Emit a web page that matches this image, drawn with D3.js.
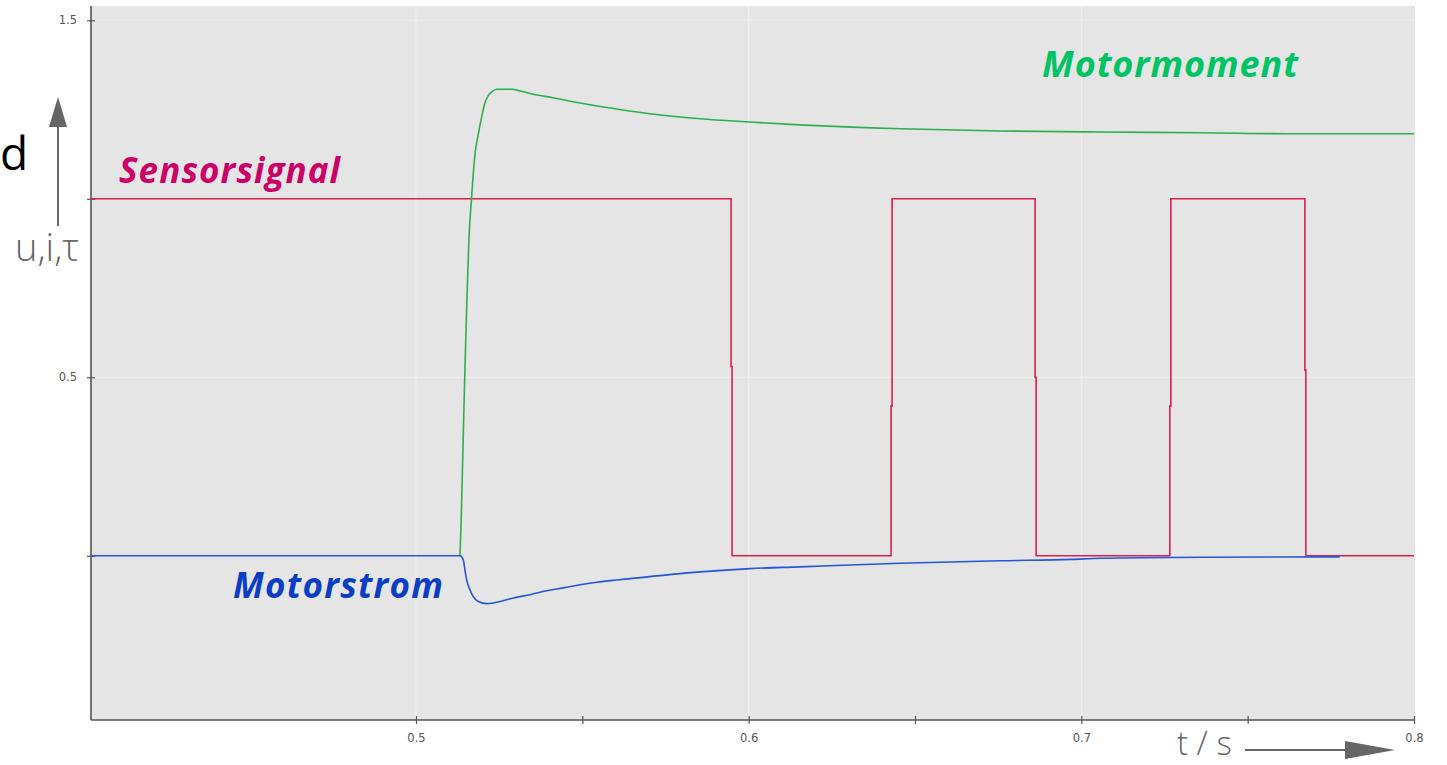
<!DOCTYPE html>
<html>
<head>
<meta charset="utf-8">
<script src="https://cdn.jsdelivr.net/npm/d3@7"></script>
<style>
  body { margin: 0; background: #fff; }
  svg { display: block; }
  .tick text { font-family: "DejaVu Sans", sans-serif; font-size: 11px; fill: #555; }
  .lbl { font-family: "Open Sans", "Noto Sans", sans-serif; font-style: italic; font-weight: 700; }
  .axname { font-family: "Open Sans", "Noto Sans", sans-serif; font-weight: 300; fill: #666; }
</style>
</head>
<body>
<svg id="chart" width="1447" height="765"></svg>
<script>
// axis ranges and ticks
var tDomain = [0.4023, 0.8];
var yDomain = [-0.46, 1.54];
var xTicks = [0.5, 0.55, 0.6, 0.65, 0.7, 0.75, 0.8];
var xTickLabels = ["0.5", "", "0.6", "", "0.7", "", "0.8"];
var xGrid = [0.5, 0.6, 0.7];
var yTicks = [1.5, 1.0, 0.5, 0];
var yTickLabels = ["1.5", "", "0.5", ""];
var yGrid = [1.5, 0.5];

// Motormoment (torque), starts where the motor switches on
var momentT = [0.5132, 0.5135, 0.5141, 0.5147, 0.5153, 0.5159, 0.5167, 0.5172, 0.5178,
               0.5187, 0.5198, 0.5207, 0.5217, 0.5228, 0.5243, 0.5288, 0.5313, 0.5352, 0.5412,
               0.5472, 0.5532, 0.5613, 0.5703, 0.5854, 0.6004, 0.6154, 0.6455, 0.6755, 0.7056,
               0.7357, 0.7657, 0.8];
var momentV = [0, 0.073, 0.297, 0.521, 0.717, 0.885, 1.003, 1.070, 1.130,
               1.180, 1.232, 1.268, 1.289, 1.300, 1.307, 1.307, 1.302, 1.293, 1.283,
               1.272, 1.262, 1.250, 1.238, 1.224, 1.215, 1.207, 1.196, 1.190, 1.187,
               1.185, 1.182, 1.182];

// Motorstrom (current)
var stromT = [0.4023, 0.5132, 0.5142, 0.5147, 0.5152, 0.5162, 0.5172, 0.5187, 0.5213, 0.5253,
              0.5293, 0.5343, 0.5393, 0.5443, 0.5493, 0.5543, 0.5613, 0.5854, 0.6004, 0.6154,
              0.6455, 0.6755, 0.6972, 0.7056, 0.7357, 0.7777];
var stromV = [0, 0, -0.011, -0.039, -0.067, -0.095, -0.114, -0.128, -0.134, -0.128,
              -0.118, -0.109, -0.098, -0.090, -0.081, -0.074, -0.067, -0.045, -0.036, -0.031,
              -0.021, -0.014, -0.010, -0.007, -0.004, -0.003];

// Sensorsignal (sampled, drawn as steps)
var sensorT = [0.4023, 0.5947, 0.5950, 0.6428, 0.6431, 0.6861, 0.6864, 0.7266, 0.7269, 0.7672, 0.7675, 0.8];
var sensorV = [1, 0.53, 0, 0.42, 1, 0.5, 0, 0.42, 1, 0.52, 0, 0];

var svg = d3.select("#chart");
var x = d3.scaleLinear().domain(tDomain).range([91, 1414]);
var y = d3.scaleLinear().domain(yDomain).range([720, 6]);

svg.append("rect")
  .attr("x", 91).attr("y", 6)
  .attr("width", 1324).attr("height", 714)
  .attr("fill", "#e5e5e5");

// grid
svg.selectAll(".vgrid").data(xGrid).enter().append("line")
  .attr("x1", d => x(d)).attr("x2", d => x(d))
  .attr("y1", 6).attr("y2", 720)
  .attr("stroke", "#f0f0f0").attr("stroke-width", 1);
svg.selectAll(".hgrid").data(yGrid).enter().append("line")
  .attr("x1", 91).attr("x2", 1415)
  .attr("y1", d => y(d)).attr("y2", d => y(d))
  .attr("stroke", "#f0f0f0").attr("stroke-width", 1);

// axes
var xAxis = svg.append("g")
  .attr("transform", "translate(0,720)")
  .call(d3.axisBottom(x).tickValues(xTicks)
    .tickFormat((d, i) => xTickLabels[i]).tickSizeOuter(0).tickPadding(8));
xAxis.selectAll(".tick line").attr("y1", -4).attr("y2", 4);

var yAxis = svg.append("g")
  .attr("transform", "translate(91,0)")
  .call(d3.axisLeft(y).tickValues(yTicks)
    .tickFormat((d, i) => yTickLabels[i]).tickSizeOuter(0).tickPadding(8));
yAxis.selectAll(".tick line").attr("x1", 4).attr("x2", -4);

[xAxis, yAxis].forEach(function(g) {
  g.select(".domain").attr("stroke", "#555").attr("stroke-width", 1.6);
  g.selectAll(".tick line").attr("stroke", "#555").attr("stroke-width", 1.2);
  g.selectAll(".tick text").style("font-size", "11.5px");
});
xAxis.select(".domain").attr("d", "M91,0H1415");
yAxis.select(".domain").attr("d", "M0,6V720");

// series
var lineSmooth = d3.line().x(d => x(d[0])).y(d => y(d[1])).curve(d3.curveMonotoneX);
var lineStep = d3.line().x(d => x(d[0])).y(d => y(d[1])).curve(d3.curveStepAfter);

svg.append("path")
  .datum(d3.zip(sensorT, sensorV))
  .attr("d", lineStep)
  .attr("fill", "none").attr("stroke", "#dc1f50").attr("stroke-width", 1.6);

svg.append("path")
  .datum(d3.zip(momentT, momentV))
  .attr("d", lineSmooth)
  .attr("fill", "none").attr("stroke", "#2fae4e").attr("stroke-width", 1.6);

svg.append("path")
  .datum(d3.zip(stromT, stromV))
  .attr("d", lineSmooth)
  .attr("fill", "none").attr("stroke", "#2656d8").attr("stroke-width", 1.6);

// series labels
svg.append("text").attr("class", "lbl")
  .attr("x", 1042).attr("y", 77).attr("font-size", 36)
  .attr("textLength", 256).attr("lengthAdjust", "spacing")
  .attr("fill", "#00c463").text("Motormoment");
svg.append("text").attr("class", "lbl")
  .attr("x", 119).attr("y", 183).attr("font-size", 35)
  .attr("textLength", 221).attr("lengthAdjust", "spacing")
  .attr("fill", "#cc0066").text("Sensorsignal");
svg.append("text").attr("class", "lbl")
  .attr("x", 233).attr("y", 598).attr("font-size", 35)
  .attr("textLength", 210).attr("lengthAdjust", "spacing")
  .attr("fill", "#0a3fc4").text("Motorstrom");

// axis names and arrows
svg.append("text").attr("x", 0).attr("y", 170)
  .attr("font-family", "Open Sans, sans-serif").attr("font-size", 46)
  .attr("fill", "#000").text("d");
svg.append("text").attr("class", "axname")
  .attr("x", 15).attr("y", 261).attr("font-size", 38).text("u,i,τ");
svg.append("line")
  .attr("x1", 58).attr("y1", 226).attr("x2", 58).attr("y2", 125)
  .attr("stroke", "#666").attr("stroke-width", 2);
svg.append("path").attr("d", "M58,97L67,127L49,127Z").attr("fill", "#666");

svg.append("text").attr("class", "axname")
  .attr("x", 1177).attr("y", 755).attr("font-size", 33).text("t / s");
svg.append("line")
  .attr("x1", 1245).attr("y1", 750).attr("x2", 1350).attr("y2", 750)
  .attr("stroke", "#666").attr("stroke-width", 2);
svg.append("path").attr("d", "M1395,750L1345,741L1345,759Z").attr("fill", "#666");
</script>
</body>
</html>
